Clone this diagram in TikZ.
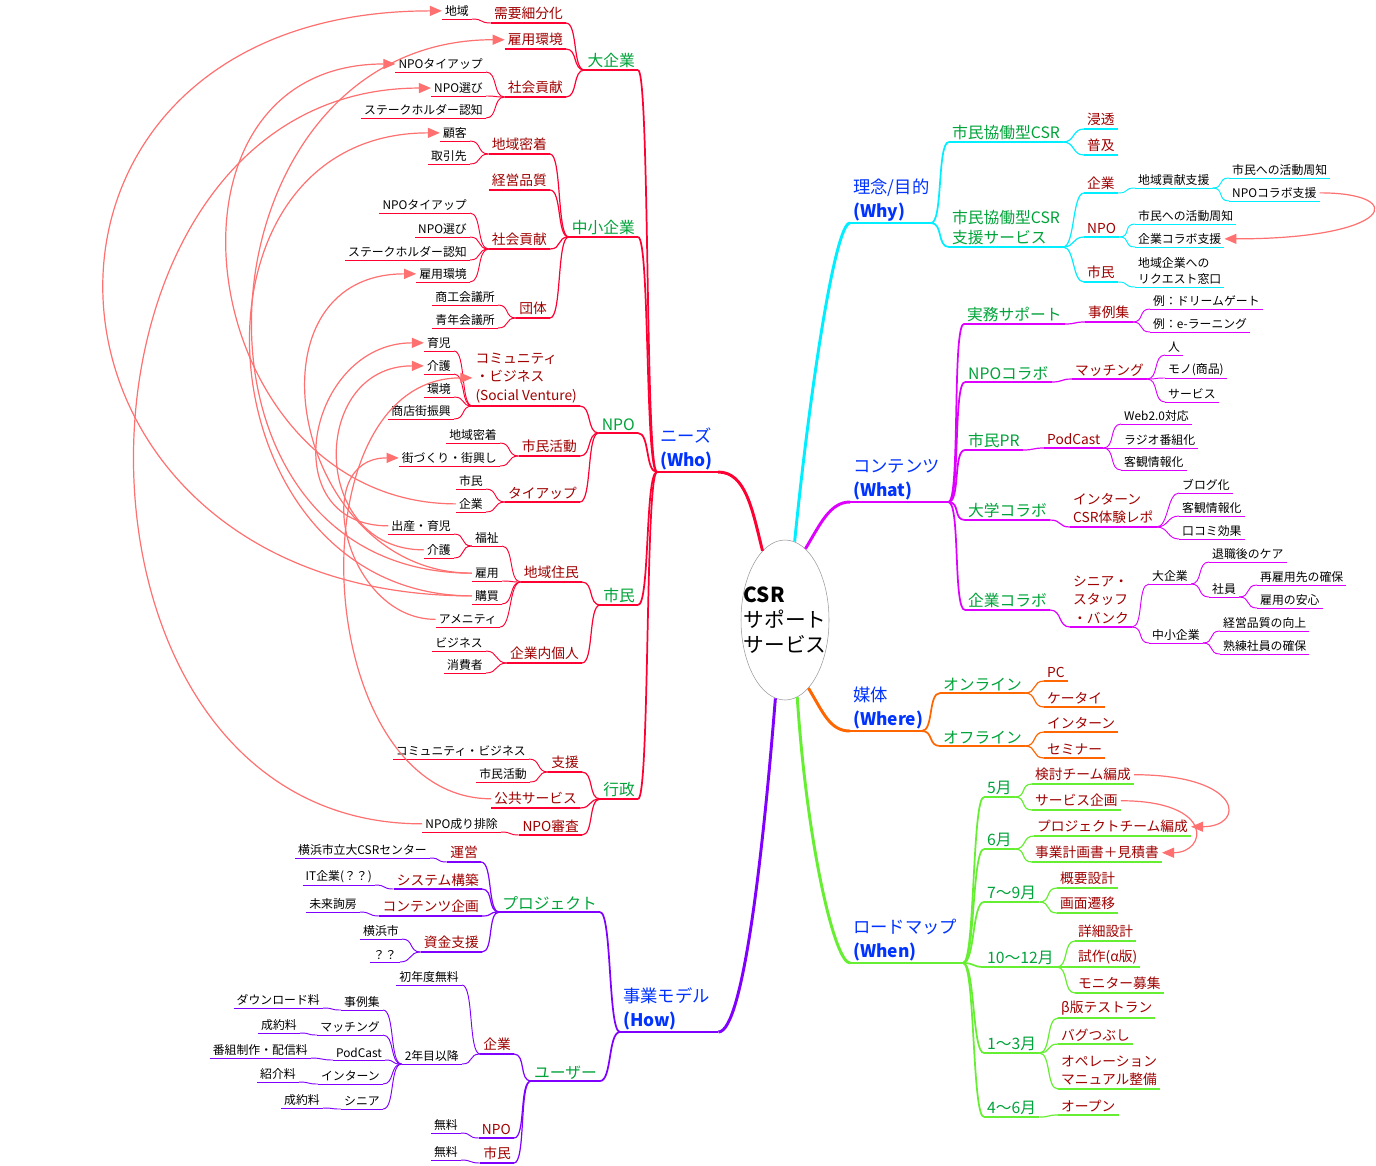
\documentclass[tikz,border=0pt]{standalone}
\usepackage{fontspec}
\setmainfont{Noto Sans CJK JP}
\usetikzlibrary{arrows.meta,shapes.geometric}
\definecolor{whoc}{HTML}{FF0033}
\definecolor{howc}{HTML}{7F00FF}
\definecolor{whyc}{HTML}{00EEFF}
\definecolor{whatc}{HTML}{DD00FF}
\definecolor{wherec}{HTML}{FF6600}
\definecolor{whenc}{HTML}{66EE33}
\definecolor{headc}{HTML}{0033FF}
\definecolor{grnc}{HTML}{00A33A}
\definecolor{redc}{HTML}{A00000}
\definecolor{arrc}{HTML}{FF7070}
\tikzset{
  ul/.style 2 args={append after command={(\tikzlastnode.south west) edge[draw=#1,line width=#2] (\tikzlastnode.south east)}},
  hd/.style={ul={#1}{1.6pt}, font=\fontsize{13}{18}\selectfont, text=headc, align=left, inner xsep=2.2pt, inner ysep=1.2pt},
  gr/.style={ul={#1}{1.2pt}, font=\fontsize{11.8}{15}\selectfont, text=grnc, align=left, inner xsep=2.2pt, inner ysep=1.2pt},
  rd/.style={ul={#1}{0.9pt}, font=\fontsize{10.3}{14}\selectfont, text=redc, align=left, inner xsep=2.2pt, inner ysep=2pt},
  lf/.style={ul={#1}{0.7pt}, font=\fontsize{8.9}{12}\selectfont, text=black, align=left, inner xsep=2.2pt, inner ysep=1.8pt},
  lk/.style={to path={.. controls +(-#1,0) and +(#1,0) .. (\tikztotarget)}}, lk/.default=12,
  rk/.style={to path={.. controls +(#1,0) and +(-#1,0) .. (\tikztotarget)}}, rk/.default=12,
  arr/.style={draw=arrc, line width=0.9pt, -{Triangle[length=9pt,width=7.5pt]}},
}
\begin{document}
\begin{tikzpicture}[x=0.75pt,y=-0.75pt]
  \path[use as bounding box, fill=white] (0,0) rectangle (1376,1165);
  % centre
  \node[ellipse, draw=gray!80, fill=white, minimum width=66pt, minimum height=120pt] (csr) at (785,620) {};
  \node[font=\fontsize{15.5}{19}\selectfont, align=left] (csrtxt) at (csr) {\textbf{CSR}\\サポート\\サービス};

  % headings
  \node[hd=whoc, anchor=south west, text width=41pt] (who) at (657,472) {ニーズ\\\textbf{(Who)}};
  \node[hd=howc, anchor=south west, text width=69pt] (how) at (620,1032) {事業モデル\\\textbf{(How)}};
  \node[hd=whyc, anchor=south west, text width=56pt] (why) at (850,223) {理念/目的\\\textbf{(Why)}};
  \node[hd=whatc, anchor=south west, text width=69pt] (what) at (850,502) {コンテンツ\\\textbf{(What)}};
  \node[hd=wherec, anchor=south west, text width=49pt] (where) at (850,731) {媒体\\\textbf{(Where)}};
  \node[hd=whenc, anchor=south west, text width=80pt] (when) at (850,963) {ロードマップ\\\textbf{(When)}};
  \draw[whoc, line width=2.2pt] (csr.108) .. controls +(-10,-40) and +(28,0) .. (who.south east);
  \draw[howc, line width=2.2pt] (csr.263) .. controls +(-12,150) and +(25,0) .. (how.south east);
  \draw[whyc, line width=2.2pt] (csr.83) .. controls +(15,-150) and +(-15,0) .. (why.south west);
  \draw[whatc, line width=2.2pt] (csr.74) .. controls +(15,-25) and +(-20,0) .. (what.south west);
  \draw[wherec, line width=2.2pt] (csr.289) .. controls +(15,25) and +(-20,0) .. (where.south west);
  \draw[whenc, line width=2.2pt] (csr.279) .. controls +(10,150) and +(-15,0) .. (when.south west);

  % Who
  \foreach \n/\x/\y/\t in {big/638/70/大企業, sme/638/237/中小企業, npo/638/433/NPO, cit/638/605/市民, gov/638/799/行政} {
    \node[gr=whoc, anchor=south east] (\n) at (\x,\y) {\t};
    \draw[whoc, line width=1.3pt] (who.south west) to[lk] (\n.south east);
  }
  \foreach \n/\p/\x/\y/\t in {bigseg/big/566/23/需要細分化, bigemp/big/566/49/雇用環境, bigcsr/big/566/97/社会貢献,
      smeloc/sme/550/154/地域密着, smeqty/sme/550/190/経営品質, smecsr/sme/550/249/社会貢献, smegrp/sme/550/318/団体,
      npocb/npo/580/406/{コミュニティ\\・ビジネス\\(Social Venture)}, npoact/npo/580/456/市民活動, npotie/npo/580/502/タイアップ,
      citres/cit/582/582/地域住民, citind/cit/582/663/企業内個人,
      govsup/gov/582/772/支援, govpub/gov/580/808/公共サービス, govchk/gov/582/835/NPO審査} {
    \node[rd=whoc, anchor=south east] (\n) at (\x,\y) {\t};
    \draw[whoc, line width=0.9pt] (\p.south west) to[lk] (\n.south east);
  }
  \foreach \n/\p/\x/\y/\t in {bigarea/bigseg/472/19/地域, bigtie/bigcsr/486/72/NPOタイアップ, bigsel/bigcsr/486/96/NPO選び,
      bigstk/bigcsr/486/118/ステークホルダー認知, smecus/smeloc/470/141/顧客, smetrd/smeloc/470/164/取引先,
      smetie/smecsr/470/213/NPOタイアップ, smesel/smecsr/470/237/NPO選び, smestk/smecsr/470/260/ステークホルダー認知,
      smeemp/smecsr/470/282/雇用環境, smecci/smegrp/498/305/商工会議所, smejc/smegrp/498/328/青年会議所,
      npokid/npocb/454/351/育児, npocare/npocb/454/374/介護, npoenv/npocb/454/397/環境, nposhop/npocb/454/419/商店街振興,
      npoloc/npoact/500/443/地域密着, npotown/npoact/500/466/街づくり・街興し, npocit/npotie/486/489/市民, npocorp/npotie/486/512/企業,
      citwel/citres/502/546/福祉, citjob/citres/502/581/雇用, citbuy/citres/502/604/購買, citame/citres/500/627/アメニティ,
      citbiz/citind/486/651/ビジネス, citcon/citind/486/673/消費者,
      citbirth/citwel/454/534/出産・育児, citcare/citwel/454/558/介護,
      govcb/govsup/529/759/コミュニティ・ビジネス, govact/govsup/530/782/市民活動, govexc/govchk/501/832/NPO成り排除} {
    \node[lf=whoc, anchor=south east] (\n) at (\x,\y) {\t};
    \draw[whoc, line width=0.7pt] (\p.south west) to[lk] (\n.south east);
  }

  % How
  \foreach \n/\x/\y/\t in {prj/600/912/プロジェクト, usr/600/1081/ユーザー} {
    \node[gr=howc, anchor=south east] (\n) at (\x,\y) {\t};
    \draw[howc, line width=1.3pt] (how.south west) to[lk] (\n.south east);
  }
  \foreach \n/\p/\x/\y/\t in {prjrun/prj/481/862/運営, prjsys/prj/482/889/システム構築, prjcnt/prj/482/916/コンテンツ企画,
      prjfund/prj/482/952/資金支援, usrcorp/usr/514/1054/企業, usrnpo/usr/514/1138/NPO, usrcit/usr/514/1163/市民} {
    \node[rd=howc, anchor=south east] (\n) at (\x,\y) {\t};
    \draw[howc, line width=0.9pt] (\p.south west) to[lk] (\n.south east);
  }
  \foreach \n/\p/\x/\y/\t in {prjcsr/prjrun/430/858/横浜市立大CSRセンター, prjit/prjsys/375/885/IT企業(？？),
      prjmir/prjcnt/360/912/未来詢房, prjyoko/prjfund/402/939/横浜市, prjq/prjfund/400/962/？？,
      usrfree/usrcorp/462/985/初年度無料, usrlater/usrcorp/462/1064/2年目以降,
      usrcase/usrlater/383/1010/事例集, usrmat/usrlater/383/1035/マッチング, usrpod/usrlater/385/1060/PodCast,
      usrint/usrlater/383/1084/インターン, usrsen/usrlater/383/1109/シニア,
      usrfee1/usrcase/323/1008/ダウンロード料, usrfee2/usrmat/300/1033/成約料, usrfee3/usrpod/311/1058/番組制作・配信料,
      usrfee4/usrint/299/1082/紹介料, usrfee5/usrsen/323/1108/成約料,
      usrnpofree/usrnpo/461/1133/無料, usrcitfree/usrcit/461/1160/無料} {
    \node[lf=howc, anchor=south east] (\n) at (\x,\y) {\t};
    \draw[howc, line width=0.7pt] (\p.south west) to[lk] (\n.south east);
  }

  % Why
  \foreach \n/\x/\y/\t in {why1/949/142/市民協働型CSR, why2/949/247/{市民協働型CSR\\支援サービス}} {
    \node[gr=whyc, anchor=south west] (\n) at (\x,\y) {\t};
    \draw[whyc, line width=1.3pt] (why.south east) to[rk] (\n.south west);
  }
  \foreach \n/\p/\x/\y/\t in {whypen/why1/1084/129/浸透, whyspr/why1/1084/155/普及,
      whycorp/why2/1084/193/企業, whynpo/why2/1084/237/NPO, whycit/why2/1084/282/市民} {
    \node[rd=whyc, anchor=south west] (\n) at (\x,\y) {\t};
    \draw[whyc, line width=0.9pt] (\p.south east) to[rk] (\n.south west);
  }
  \foreach \n/\p/\x/\y/\t in {whyloc/whycorp/1135/188/地域貢献支援, whyinf1/whyloc/1229/178/市民への活動周知,
      whynposup/whyloc/1229/201/NPOコラボ支援, whyinf2/whynpo/1135/224/市民への活動周知,
      whycorpsup/whynpo/1135/247/企業コラボ支援, whyreq/whycit/1135/287/{地域企業への\\リクエスト窓口}} {
    \node[lf=whyc, anchor=south west] (\n) at (\x,\y) {\t};
    \draw[whyc, line width=0.7pt] (\p.south east) to[rk] (\n.south west);
  }

  % What
  \foreach \n/\x/\y/\t in {wprac/964/324/実務サポート, wnpo/965/382/NPOコラボ, wpr/965/450/市民PR,
      wuni/965/520/大学コラボ, wcorp/965/610/企業コラボ} {
    \node[gr=whatc, anchor=south west] (\n) at (\x,\y) {\t};
    \draw[whatc, line width=1.3pt] (what.south east) to[rk] (\n.south west);
  }
  \foreach \n/\p/\x/\y/\t in {wcase/wprac/1085/322/事例集, wmatch/wnpo/1072/379/マッチング, wpod/wpr/1044/448/PodCast,
      wint/wuni/1070/527/{インターン\\CSR体験レポ}, wsenior/wcorp/1070/627/{シニア・\\スタッフ\\・バンク}} {
    \node[rd=whatc, anchor=south west] (\n) at (\x,\y) {\t};
    \draw[whatc, line width=0.9pt] (\p.south east) to[rk] (\n.south west);
  }
  \foreach \n/\p/\x/\y/\t in {wdream/wcase/1150/309/例：ドリームゲート, welearn/wcase/1150/332/例：e-ラーニング,
      wppl/wmatch/1165/355/人, wgoods/wmatch/1165/378/モノ(商品), wsvc/wmatch/1165/402/サービス,
      wweb/wpod/1121/424/Web2.0対応, wradio/wpod/1121/448/ラジオ番組化, wobj/wpod/1121/470/客観情報化,
      wblog/wint/1179/493/ブログ化, wobj2/wint/1179/516/客観情報化, wword/wint/1179/539/口コミ効果,
      wbig/wsenior/1149/584/大企業, wsme/wsenior/1149/643/中小企業,
      wretire/wbig/1209/562/退職後のケア, wstaff/wbig/1209/597/社員,
      wrehire/wstaff/1257/585/再雇用先の確保, wsecure/wstaff/1257/608/雇用の安心,
      wqual/wsme/1220/631/経営品質の向上, wskill/wsme/1220/654/熟練社員の確保} {
    \node[lf=whatc, anchor=south west] (\n) at (\x,\y) {\t};
    \draw[whatc, line width=0.7pt] (\p.south east) to[rk] (\n.south west);
  }

  % Where
  \foreach \n/\x/\y/\t in {won/940/693/オンライン, woff/940/746/オフライン} {
    \node[gr=wherec, anchor=south west] (\n) at (\x,\y) {\t};
    \draw[wherec, line width=1.3pt] (where.south east) to[rk] (\n.south west);
  }
  \foreach \n/\p/\x/\y/\t in {wpc/won/1044/681/PC, wmob/won/1044/707/ケータイ,
      wintern/woff/1044/732/インターン, wsem/woff/1044/758/セミナー} {
    \node[rd=wherec, anchor=south west] (\n) at (\x,\y) {\t};
    \draw[wherec, line width=0.9pt] (\p.south east) to[rk] (\n.south west);
  }

  % When
  \foreach \n/\x/\y/\t in {may/984/797/5月, jun/984/849/6月, qa/984/902/7〜9月, qb/984/967/10〜12月,
      qc/984/1053/1〜3月, qd/984/1117/4〜6月} {
    \node[gr=whenc, anchor=south west] (\n) at (\x,\y) {\t};
    \draw[whenc, line width=1.3pt] (when.south east) to[rk] (\n.south west);
  }
  \foreach \n/\p/\x/\y/\t in {mteam/may/1032/784/検討チーム編成, msvc/may/1032/810/サービス企画,
      jteam/jun/1034/836/プロジェクトチーム編成, jplan/jun/1032/862/事業計画書＋見積書,
      qa1/qa/1057/888/概要設計, qa2/qa/1057/913/画面遷移,
      qb1/qb/1075/941/詳細設計, qb2/qb/1075/967/試作(α版), qb3/qb/1075/993/モニター募集,
      qc1/qc/1058/1018/β版テストラン, qc2/qc/1058/1044/バグつぶし, qc3/qc/1058/1089/{オペレーション\\マニュアル整備},
      qd1/qd/1058/1115/オープン} {
    \node[rd=whenc, anchor=south west] (\n) at (\x,\y) {\t};
    \draw[whenc, line width=0.9pt] (\p.south east) to[rk] (\n.south west);
  }

  % cross links
  \foreach \s/\t/\l in {citbuy/bigarea/2.05, citjob/bigemp/1.5, npocorp/bigtie/1.5, govexc/bigsel/1.35, citbuy/smecus/1.5,
      citjob/smeemp/1.5, citbirth/npokid/1.6, citcare/npocare/1.6, govpub/npocb/1.1, citame/npotown/1.4}
    \draw[arr] (\s.west) to[out=180,in=180,looseness=\l] (\t.west);
  \draw[arr] (whynposup.east) .. controls +(90,0) and +(170,0) .. (whycorpsup.east);
  \draw[arr] (mteam.east) .. controls +(110,0) and +(55,0) .. (jteam.east);
  \draw[arr] (msvc.east) .. controls +(95,0) and +(45,0) .. (jplan.east);
\end{tikzpicture}
\end{document}
